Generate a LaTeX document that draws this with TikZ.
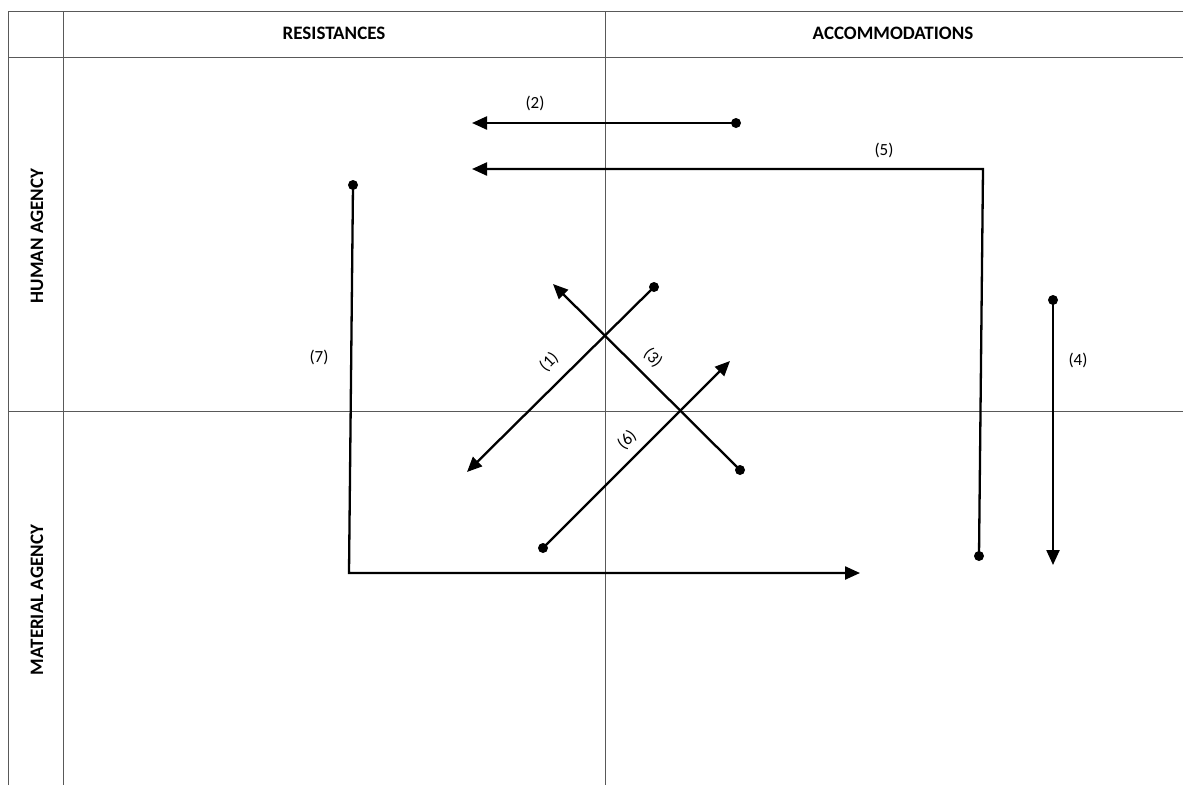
\documentclass[tikz,border=0pt]{standalone}
\usepackage{fontspec}
\setmainfont{Carlito}
\usetikzlibrary{arrows.meta}

\tikzset{
  grid/.style={draw=black!65, line width=1pt},
  head/.style={font=\fontsize{19}{21}\selectfont\bfseries, inner sep=0pt},
  side/.style={head, rotate=90},
  lbl/.style={font=\fontsize{17}{19}\selectfont, inner sep=0pt},
  dot/.style={circle, fill=black, minimum size=10pt, inner sep=0pt},
  conn/.style={line width=2.3pt, line join=miter, -{Triangle[length=15pt,width=13pt]}}
}

\begin{document}
\begin{tikzpicture}[x=1pt, y=-1pt]
  \useasboundingbox (0,0) rectangle (1183,785);

  % table frame
  \draw[grid] (8,785) -- (8,11) -- (1183,11);
  \draw[grid] (8,57) -- (1183,57);
  \draw[grid] (63,11) -- (63,785);
  \draw[grid] (605,11) -- (605,785);
  \draw[grid] (8,411) -- (1183,411);

  % headings
  \node[head] (res) at (334,33) {RESISTANCES};
  \node[head] (acc) at (893,33) {ACCOMMODATIONS};
  \node[side] (hum) at (37,236) {HUMAN AGENCY};
  \node[side] (mat) at (37,600) {MATERIAL AGENCY};

  % start points
  \node[dot] (s1) at (654,287) {};
  \node[dot] (s2) at (736,123) {};
  \node[dot] (s3) at (740,470) {};
  \node[dot] (s4) at (1053,300) {};
  \node[dot] (s5) at (979,556) {};
  \node[dot] (s6) at (543,548) {};
  \node[dot] (s7) at (353,185) {};

  % end points and bends
  \coordinate (e1) at (467,472);
  \coordinate (e2) at (472,123);
  \coordinate (e3) at (553,284);
  \coordinate (e4) at (1053,565);
  \coordinate (k5) at (983,169);
  \coordinate (e5) at (472,169);
  \coordinate (e6) at (730,361);
  \coordinate (k7) at (349,573);
  \coordinate (e7) at (860,573);

  % connectors
  \draw[conn] (s1.center) -- (e1);
  \draw[conn] (s2.center) -- (e2);
  \draw[conn] (s3.center) -- (e3);
  \draw[conn] (s4.center) -- (e4);
  \draw[conn] (s5.center) -- (k5) -- (e5);
  \draw[conn] (s6.center) -- (e6);
  \draw[conn] (s7.center) -- (k7) -- (e7);

  % connector labels
  \node[lbl, rotate=45] (l1) at (549,362) {(1)};
  \node[lbl] (l2) at (535,103) {(2)};
  \node[lbl, rotate=-45] (l3) at (653,358) {(3)};
  \node[lbl] (l4) at (1078,360) {(4)};
  \node[lbl] (l5) at (884,150) {(5)};
  \node[lbl, rotate=45] (l6) at (627,440) {(6)};
  \node[lbl] (l7) at (319,357) {(7)};
\end{tikzpicture}
\end{document}
